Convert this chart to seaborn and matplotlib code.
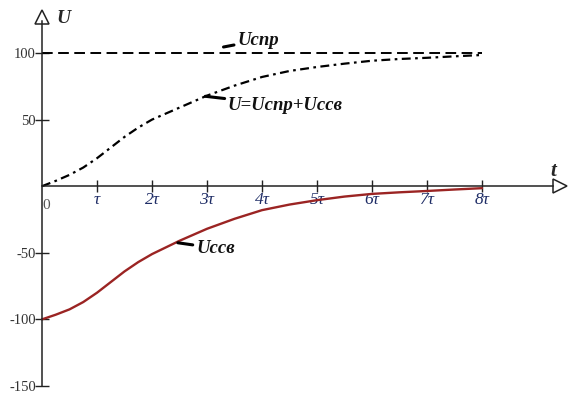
import matplotlib
matplotlib.use("Agg")
import matplotlib.pyplot as plt
import seaborn as sns
import pandas as pd

# ---- data ----
t_vals = [0, 0.25, 0.5, 0.75, 1, 1.25, 1.5, 1.75, 2, 2.5, 3, 3.5, 4, 4.5, 5, 5.5, 6, 6.5, 7, 7.5, 8]
u_ccv = [-100, -96.5, -92.5, -87, -80, -72, -64, -57, -51, -41, -32, -24.5, -18, -13.8, -10.5, -7.8, -5.8, -4.6, -3.6, -2.5, -1.5]
u_total = [0, 4, 8.5, 14, 21, 29, 37, 44, 50, 59, 68, 75.5, 82, 86.5, 89.5, 92, 94.2, 95.5, 96.4, 97.5, 98.5]
u_cnp = [100] * len(t_vals)

x_ticks = [1, 2, 3, 4, 5, 6, 7, 8]
x_tick_labels = ["τ", "2τ", "3τ", "4τ", "5τ", "6τ", "7τ", "8τ"]
y_ticks = [100, 50, -50, -100, -150]
y_tick_labels = ["100", "50", "-50", "-100", "-150"]

sns.set_theme(style="white")
plt.rcParams["font.family"] = ["Liberation Serif", "DejaVu Serif"]

fig = plt.figure(figsize=(5.68, 3.95), dpi=100)
ax = fig.add_axes([0, 0, 1, 1])
ax.set_facecolor("white")

df = pd.DataFrame({"t": t_vals, "ccv": u_ccv, "tot": u_total, "cnp": u_cnp})

sns.lineplot(data=df, x="t", y="cnp", ax=ax, color="black", lw=1.4,
             linestyle=(0, (5.5, 2.8)))
sns.lineplot(data=df, x="t", y="tot", ax=ax, color="black", lw=1.6,
             linestyle=(0, (4, 2, 1.2, 2)))
sns.lineplot(data=df, x="t", y="ccv", ax=ax, color="#9b2423", lw=1.7)

ax.set_xlim(-0.764, 9.564)
ax.set_ylim(-156.8, 139.8)

for s in ["top", "right"]:
    ax.spines[s].set_visible(False)
ax.spines["left"].set_position(("data", 0))
ax.spines["bottom"].set_position(("data", 0))
ax.spines["left"].set_bounds(-150, 124)
ax.spines["bottom"].set_bounds(0, 9.3)
for s in ["left", "bottom"]:
    ax.spines[s].set_color("#222222")
    ax.spines[s].set_linewidth(1.1)

# arrow heads
ax.plot([0], [127], marker="^", ms=10, mfc="white", mec="#222222", mew=1.1,
        clip_on=False)
ax.plot([9.42], [0], marker=">", ms=10, mfc="white", mec="#222222", mew=1.1,
        clip_on=False)

ax.set_xticks(x_ticks)
ax.set_xticklabels(x_tick_labels, fontsize=12.5, style="italic",
                   color="#1f2d66")
ax.set_yticks(y_ticks)
ax.set_yticklabels(y_tick_labels, fontsize=10.5, color="#333333")
ax.tick_params(axis="x", direction="inout", length=8, width=1.0,
               color="#222222", pad=0, bottom=True)
ax.tick_params(axis="y", direction="inout", length=10, width=1.0,
               color="#222222", pad=-0.5, left=True)
ax.set_xlabel("")
ax.set_ylabel("")

# zero label
ax.text(0.08, -14.5, "0", fontsize=11, color="#555555", ha="center", va="center")

# axis names
ax.text(0.39, 126, "U", fontsize=14, style="italic", weight="bold",
        ha="center", va="center")
ax.text(9.3, 11.5, "t", fontsize=15, style="italic", weight="bold",
        ha="center", va="center")

lab = dict(fontsize=13.5, style="italic", weight="bold", color="#111111",
           va="center", ha="left")
# Ucnp label
ax.annotate("Uспр", xy=(3.3, 104.5), xytext=(3.55, 109.5), **lab,
            arrowprops=dict(arrowstyle="-", lw=2.2, color="black",
                            shrinkA=0, shrinkB=0))
# U total label
ax.annotate("U=Uспр+Uссв", xy=(2.97, 67.5), xytext=(3.38, 60.5), **lab,
            arrowprops=dict(arrowstyle="-", lw=2.2, color="black",
                            shrinkA=0, shrinkB=0))
# Uccv label
ax.annotate("Uссв", xy=(2.47, -42.5), xytext=(2.8, -46.5), **lab,
            arrowprops=dict(arrowstyle="-", lw=2.2, color="black",
                            shrinkA=0, shrinkB=0))

fig.savefig("out.png", dpi=100, facecolor="white")
